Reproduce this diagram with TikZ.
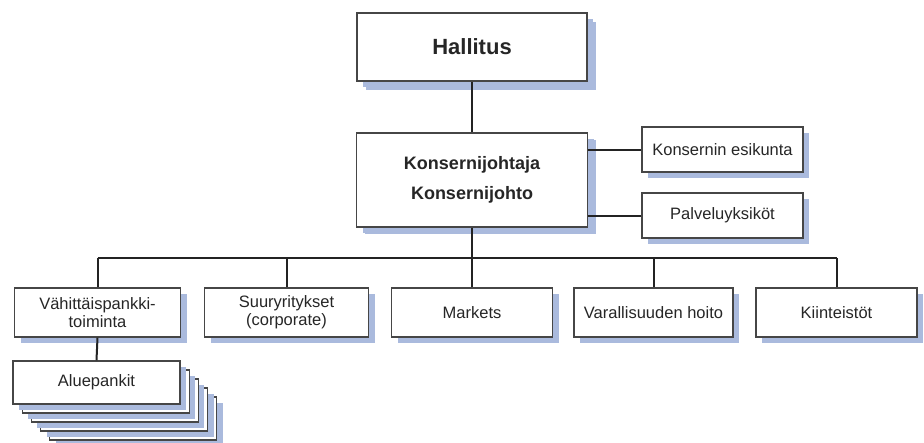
\documentclass[tikz,border=0pt]{standalone}
\usepackage{fontspec}
\setmainfont{Liberation Sans}
\usetikzlibrary{shadows}
\definecolor{shade}{RGB}{170,186,221}
\definecolor{edge}{RGB}{70,70,70}
\definecolor{wire}{RGB}{35,35,35}
\tikzset{
  x=1pt, y=-1pt,
  orgbox/.style={draw=edge, line width=1.3pt, fill=white, inner sep=0pt, align=center,
    text=black!85,
    drop shadow={shadow xshift=6pt, shadow yshift=-6pt, fill=shade, opacity=1}},
  bigshadow/.style={drop shadow={shadow xshift=9pt, shadow yshift=-9pt, fill=shade, opacity=1}},
  regular/.style={font=\fontsize{16.5}{18}\selectfont},
  wirel/.style={draw=wire, line width=2pt},
}
\begin{document}
\begin{tikzpicture}
\useasboundingbox (0,0) rectangle (924,442);

% top
\node[orgbox, bigshadow, minimum width=230pt, minimum height=68pt,
      font=\fontsize{22}{24}\selectfont\bfseries] (hal) at (472,47) {Hallitus};
\node[orgbox, drop shadow={shadow xshift=8pt, shadow yshift=-7pt, fill=shade, opacity=1},
      minimum width=231pt, minimum height=94pt,
      font=\fontsize{18}{30}\selectfont\bfseries] (kj) at (472,180) {Konsernijohtaja\\Konsernijohto};

\node[orgbox, regular, minimum width=161pt, minimum height=45pt] (esi) at (722.5,149.5) {Konsernin esikunta};
\node[orgbox, regular, minimum width=161pt, minimum height=45pt] (pal) at (722.5,215.5) {Palveluyksiköt};

% business areas
\node[orgbox, regular, minimum width=166pt, minimum height=49pt] (vah) at (97.5,312.5) {Vähittäispankki-\\toiminta};
\node[orgbox, regular, minimum width=164pt, minimum height=49pt] (suu) at (286.5,312.5) {Suuryritykset\\(corporate)};
\node[orgbox, regular, minimum width=161pt, minimum height=49pt] (mar) at (472,312.5) {Markets};
\node[orgbox, regular, minimum width=159pt, minimum height=49pt] (var) at (653.5,312.5) {Varallisuuden hoito};
\node[orgbox, regular, minimum width=161pt, minimum height=49pt] (kii) at (836.5,312.5) {Kiinteistöt};

% regional banks stack
\foreach \k in {4,3,2,1} {
  \node[orgbox, minimum width=167pt, minimum height=43pt] (ap\k) at (96.5+9.2*\k, 382.5+9.0*\k) {};
}
\node[orgbox, regular, minimum width=167pt, minimum height=43pt] (ap) at (96.5,382.5) {Aluepankit};

% connectors
\coordinate (busL) at (97.5,258);
\coordinate (busR) at (836.5,258);
\draw[wirel] (hal.south) -- (kj.north);
\draw[wirel] (esi.west) -- (esi.west -| kj.east);
\draw[wirel] (pal.west) -- (pal.west -| kj.east);
\draw[wirel] (kj.south) -- (kj.south |- busL);
\draw[wirel] (busL) -- (busR);
\foreach \n in {vah,suu,mar,var,kii} {
  \draw[wirel] (\n.north) -- (\n.north |- busL);
}
\draw[wirel] (vah.south) -- (ap.north);
\end{tikzpicture}
\end{document}
